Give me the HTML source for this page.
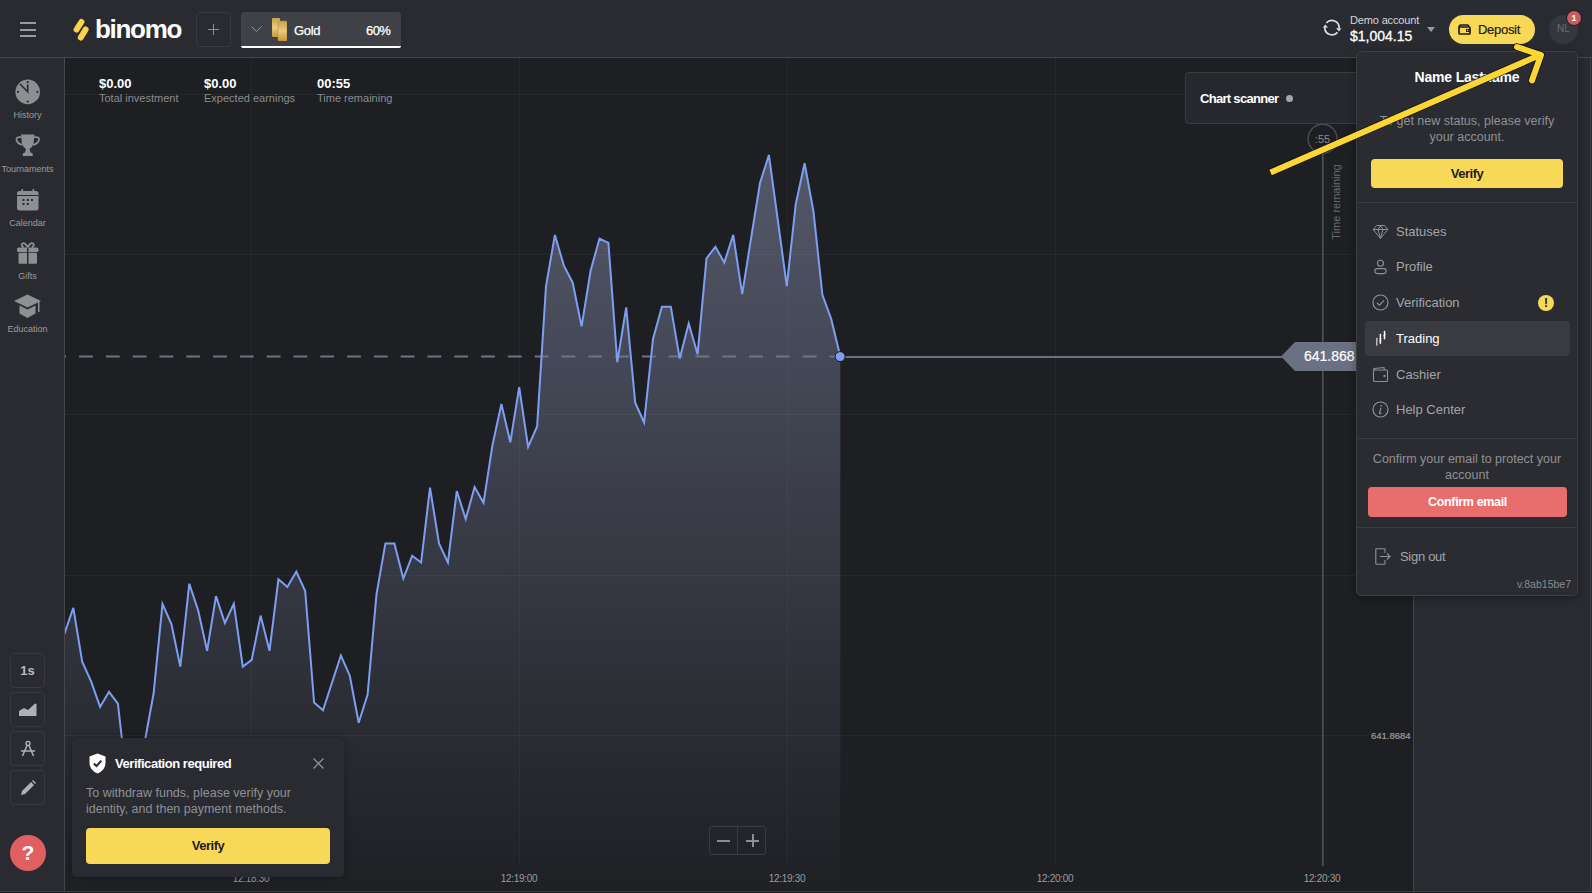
<!DOCTYPE html>
<html><head><meta charset="utf-8">
<style>
*{margin:0;padding:0;box-sizing:border-box}
html,body{width:1592px;height:893px;overflow:hidden;background:#1e1f23;font-family:"Liberation Sans",sans-serif;color:#fff}
.a{position:absolute}
#hdr{left:0;top:0;width:1592px;height:58px;background:#2a2b30;border-bottom:1px solid #47484d}
#side{left:0;top:58px;width:65px;height:835px;background:#2a2b30;border-right:1px solid #45464b}
#rp{left:1413px;top:58px;width:179px;height:835px;background:#2a2b30;border-left:1px solid #45464b}
.gv{position:absolute;top:58px;width:1px;height:807px;background:#2c2d33;z-index:1}
.gh{position:absolute;left:65px;width:1348px;height:1px;background:#2c2d33;z-index:1}
.tl{position:absolute;top:873px;font-size:10px;letter-spacing:-0.3px;color:#9a9b9f;width:60px;text-align:center;margin-left:-30px}
.st1{position:absolute;top:76px;font-size:13px;font-weight:bold;color:#fff}
.st2{position:absolute;top:92px;font-size:11px;color:#8b8c90}
.sbi{position:absolute;left:0;width:55px;text-align:center;font-size:9px;color:#9a9b9f}
.tb{position:absolute;left:10px;width:35px;height:35px;border:1px solid #38393e;border-radius:4px}
.mi{position:absolute;left:1365px;width:205px;height:35px;font-size:13px;color:#a3a4a8;line-height:35px;padding-left:31px}
.mi svg{position:absolute;left:7px;top:9px}
</style></head><body>
<div id="hdr" class="a"></div>
<div id="side" class="a"></div>
<div id="rp" class="a"></div>
<div class="a" style="left:0;top:891px;width:1592px;height:1px;background:#3b3c41;z-index:5"></div>
<div class="a" style="left:0;top:892px;width:1592px;height:1px;background:#1e1f23;z-index:5"></div>
<div class="a" style="left:1590px;top:58px;width:1px;height:833px;background:#3b3c41"></div>

<!-- grid -->


<!-- chart -->
<svg class="a" style="left:0;top:0;z-index:0" width="1592" height="893">
<defs>
<linearGradient id="ag" x1="0" y1="150" x2="0" y2="893" gradientUnits="userSpaceOnUse">
<stop offset="0" stop-color="#555869"/>
<stop offset="0.4" stop-color="#3e414e"/>
<stop offset="1" stop-color="#1f2024"/>
</linearGradient>
<clipPath id="cc"><rect x="65" y="58" width="1348" height="835"/></clipPath>
</defs>
<g clip-path="url(#cc)">
<path d="M64.4,634 L73.3,607.8 L82.2,661.6 L91.2,681.7 L100.1,706.9 L109.0,691.8 L117.9,703.6 L126.8,782 L135.7,790 L144.7,742 L153.6,693.5 L162.5,603.8 L171.4,624 L180.3,666.6 L189.3,583.7 L198.2,610.5 L207.1,650.8 L216.0,596.1 L224.9,623 L233.8,603.8 L242.8,666.6 L251.7,659.9 L260.6,615.6 L269.5,650.8 L278.4,579.3 L287.4,587 L296.3,571.6 L305.2,591 L314.1,702.6 L323.0,710.3 L331.9,683 L340.9,655.5 L349.8,675.7 L358.7,722.7 L367.6,694.5 L376.5,594.4 L385.4,543.4 L394.4,543.4 L403.3,578.6 L412.2,555.8 L421.1,562.5 L430.0,487.6 L439.0,543.4 L447.9,562.5 L456.8,491 L465.7,519.1 L474.6,487.1 L483.5,502.8 L492.5,445 L501.4,404 L510.3,442.3 L519.2,387.2 L528.1,447 L537.1,426.5 L546.0,286.2 L554.9,235 L563.8,265.4 L572.7,282.7 L581.6,326.4 L590.6,270.8 L599.5,238.6 L608.4,242.9 L617.3,362.2 L626.2,307.4 L635.2,402.7 L644.1,422.4 L653.0,338.9 L661.9,306.7 L670.8,306.7 L679.7,358.6 L688.7,323.5 L697.6,354.3 L706.5,258.3 L715.4,246.8 L724.3,262.6 L733.2,235 L742.2,294.1 L751.1,238 L760.0,183 L768.9,155 L777.8,220 L786.8,286.2 L795.7,204.5 L804.6,163.3 L813.5,211.7 L822.4,294.8 L831.3,319.2 L840.3,356.5 L840.3,893 L64.4,893 Z" fill="url(#ag)"/>
<line x1="251.5" y1="58" x2="251.5" y2="865" stroke="rgba(255,255,255,0.045)" stroke-width="1"/><line x1="519.5" y1="58" x2="519.5" y2="865" stroke="rgba(255,255,255,0.045)" stroke-width="1"/><line x1="787.5" y1="58" x2="787.5" y2="865" stroke="rgba(255,255,255,0.045)" stroke-width="1"/><line x1="1055.5" y1="58" x2="1055.5" y2="865" stroke="rgba(255,255,255,0.045)" stroke-width="1"/><line x1="65" y1="94.5" x2="1413" y2="94.5" stroke="rgba(255,255,255,0.045)" stroke-width="1"/><line x1="65" y1="254.5" x2="1413" y2="254.5" stroke="rgba(255,255,255,0.045)" stroke-width="1"/><line x1="65" y1="414.5" x2="1413" y2="414.5" stroke="rgba(255,255,255,0.045)" stroke-width="1"/><line x1="65" y1="575.5" x2="1413" y2="575.5" stroke="rgba(255,255,255,0.045)" stroke-width="1"/><line x1="65" y1="735.5" x2="1413" y2="735.5" stroke="rgba(255,255,255,0.045)" stroke-width="1"/>
<line x1="52.3" y1="356.6" x2="840" y2="356.6" stroke="#6f7386" stroke-width="2" stroke-dasharray="13.8 13"/>
<line x1="840" y1="357" x2="1290" y2="357" stroke="#6b7083" stroke-width="2"/>
<path d="M64.4,634 L73.3,607.8 L82.2,661.6 L91.2,681.7 L100.1,706.9 L109.0,691.8 L117.9,703.6 L126.8,782 L135.7,790 L144.7,742 L153.6,693.5 L162.5,603.8 L171.4,624 L180.3,666.6 L189.3,583.7 L198.2,610.5 L207.1,650.8 L216.0,596.1 L224.9,623 L233.8,603.8 L242.8,666.6 L251.7,659.9 L260.6,615.6 L269.5,650.8 L278.4,579.3 L287.4,587 L296.3,571.6 L305.2,591 L314.1,702.6 L323.0,710.3 L331.9,683 L340.9,655.5 L349.8,675.7 L358.7,722.7 L367.6,694.5 L376.5,594.4 L385.4,543.4 L394.4,543.4 L403.3,578.6 L412.2,555.8 L421.1,562.5 L430.0,487.6 L439.0,543.4 L447.9,562.5 L456.8,491 L465.7,519.1 L474.6,487.1 L483.5,502.8 L492.5,445 L501.4,404 L510.3,442.3 L519.2,387.2 L528.1,447 L537.1,426.5 L546.0,286.2 L554.9,235 L563.8,265.4 L572.7,282.7 L581.6,326.4 L590.6,270.8 L599.5,238.6 L608.4,242.9 L617.3,362.2 L626.2,307.4 L635.2,402.7 L644.1,422.4 L653.0,338.9 L661.9,306.7 L670.8,306.7 L679.7,358.6 L688.7,323.5 L697.6,354.3 L706.5,258.3 L715.4,246.8 L724.3,262.6 L733.2,235 L742.2,294.1 L751.1,238 L760.0,183 L768.9,155 L777.8,220 L786.8,286.2 L795.7,204.5 L804.6,163.3 L813.5,211.7 L822.4,294.8 L831.3,319.2 L840.3,356.5" fill="none" stroke="#7f9ef2" stroke-width="2" stroke-linejoin="miter"/>
<circle cx="840.1" cy="356.6" r="5" fill="#7f9ef2" stroke="#15161a" stroke-width="1"/>
<line x1="1322.8" y1="154" x2="1322.8" y2="866" stroke="#55565b" stroke-width="1.5"/>
<circle cx="1322.6" cy="138.7" r="14.5" fill="none" stroke="#4a4b50" stroke-width="1.5"/>
<path d="M1281,356.5 L1295,342 L1360,342 L1360,371 L1295,371 Z" fill="#6b7083"/>
</g>
</svg>
<div class="tl" style="left:251px">12:18:30</div>
<div class="tl" style="left:519px">12:19:00</div>
<div class="tl" style="left:787px">12:19:30</div>
<div class="tl" style="left:1055px">12:20:00</div>
<div class="tl" style="left:1322px">12:20:30</div>
<div class="a" style="left:1304px;top:348px;font-size:14px;color:#fff;-webkit-text-stroke:0.2px #fff">641.868</div>
<div class="a" style="left:1309px;top:132.5px;font-size:11px;color:#8a8b8f;width:27px;text-align:center">:55</div>
<div class="a" style="left:1290px;top:195.5px;width:92px;font-size:11px;color:#6a6b70;transform:rotate(-90deg);text-align:center">Time remaining</div>
<div class="a" style="left:1369px;top:730px;width:44px;padding-left:2px;font-size:9.5px;color:#9c9da1;background:#1e1f23;-webkit-text-stroke:0.2px #9c9da1;line-height:11px">641.8684</div>

<!-- stats -->
<div class="st1" style="left:99px">$0.00</div>
<div class="st2" style="left:99px">Total investment</div>
<div class="st1" style="left:204px">$0.00</div>
<div class="st2" style="left:204px">Expected earnings</div>
<div class="st1" style="left:317px">00:55</div>
<div class="st2" style="left:317px">Time remaining</div>

<!-- chart scanner -->
<div class="a" style="left:1185px;top:72px;width:200px;height:52px;background:#27282d;border:1px solid #3a3b40;border-radius:4px"></div>
<div class="a" style="left:1200px;top:91px;font-size:13px;font-weight:bold;letter-spacing:-0.7px">Chart scanner</div>
<div class="a" style="left:1286px;top:95px;width:7px;height:7px;border-radius:50%;background:#a5a6aa"></div>

<!-- zoom -->
<div class="a" style="left:709px;top:826px;width:29px;height:29px;border:1px solid #3a3b40;border-radius:3px 0 0 3px"></div>
<div class="a" style="left:737px;top:826px;width:29px;height:29px;border:1px solid #3a3b40;border-radius:0 3px 3px 0"></div>
<div class="a" style="left:717px;top:840px;width:13px;height:1.5px;background:#8d8e92"></div>
<div class="a" style="left:746px;top:840px;width:13px;height:1.5px;background:#8d8e92"></div>
<div class="a" style="left:752px;top:834px;width:1.5px;height:13px;background:#8d8e92"></div>

<!-- header -->
<div class="a" style="left:20px;top:22px;width:16px;height:2px;background:#9a9b9f"></div>
<div class="a" style="left:20px;top:29px;width:16px;height:2px;background:#9a9b9f"></div>
<div class="a" style="left:20px;top:35px;width:16px;height:2px;background:#9a9b9f"></div>
<svg class="a" style="left:72px;top:18px" width="18" height="24" viewBox="0 0 18 24">
<line x1="9.4" y1="4" x2="4.6" y2="11.5" stroke="#f7d44c" stroke-width="6" stroke-linecap="round"/>
<line x1="13.6" y1="11.5" x2="8.8" y2="19.5" stroke="#f7d44c" stroke-width="6" stroke-linecap="round"/>
</svg>
<div class="a" style="left:95px;top:14px;font-size:26px;font-weight:bold;color:#fff;letter-spacing:-1.3px">binomo</div>
<div class="a" style="left:196px;top:12px;width:35px;height:35px;border:1px solid #393a3f;border-radius:4px"></div>
<div class="a" style="left:208px;top:29px;width:11px;height:1px;background:#8d8e92"></div>
<div class="a" style="left:213px;top:24px;width:1px;height:11px;background:#8d8e92"></div>
<div class="a" style="left:241px;top:12px;width:160px;height:36px;background:#404146;border-radius:4px 4px 2px 2px;border-bottom:2px solid #fff"></div>
<svg class="a" style="left:251px;top:26px" width="11" height="7" viewBox="0 0 11 7"><polyline points="0.5,0.5 5.5,5.5 10.5,0.5" fill="none" stroke="#8d8e92" stroke-width="1"/></svg>
<svg class="a" style="left:272px;top:18px" width="15" height="23" viewBox="0 0 15 23">
<defs><linearGradient id="gold" x1="0" y1="0" x2="0" y2="1"><stop offset="0" stop-color="#caa24a"/><stop offset="0.5" stop-color="#e9cc7c"/><stop offset="1" stop-color="#c59a3e"/></linearGradient></defs>
<rect x="0" y="0" width="8" height="19" rx="1" fill="url(#gold)"/>
<rect x="6" y="3" width="9" height="20" rx="1" fill="url(#gold)" stroke="#b38a35" stroke-width="0.5"/>
</svg>
<div class="a" style="left:294px;top:23px;font-size:13px;color:#fff;letter-spacing:-0.3px;-webkit-text-stroke:0.25px #fff">Gold</div>
<div class="a" style="left:366px;top:23px;font-size:13px;color:#fff;letter-spacing:-0.6px;-webkit-text-stroke:0.25px #fff">60%</div>

<svg class="a" style="left:1316px;top:12px" width="34" height="34" viewBox="0 0 34 34">
<path d="M10.33,11 A7.3,7.3 0 0 1 23.1,16.3" fill="none" stroke="#dedfe1" stroke-width="1.7"/>
<polygon points="20,16 25.5,16.4 22.9,19.4" fill="#dedfe1"/>
<path d="M21.5,20.4 A7.3,7.3 0 0 1 8.75,15.2" fill="none" stroke="#dedfe1" stroke-width="1.7"/>
<polygon points="6.7,15.7 12,15.4 9.3,12.6" fill="#dedfe1"/>
</svg>
<div class="a" style="left:1350px;top:14px;font-size:11px;color:#d5d6d8;letter-spacing:-0.15px">Demo account</div>
<div class="a" style="left:1350px;top:28px;font-size:14px;color:#fff;-webkit-text-stroke:0.3px #fff">$1,004.15</div>
<svg class="a" style="left:1427px;top:27px" width="8" height="5" viewBox="0 0 8 5"><polygon points="0,0 8,0 4,5" fill="#9a9b9f"/></svg>
<div class="a" style="left:1449px;top:15px;width:86px;height:29px;background:#f8d957;border-radius:15px"></div>
<svg class="a" style="left:1458px;top:24px" width="13" height="11" viewBox="0 0 13 11">
<path d="M1,3 L1,9.2 Q1,10 1.8,10 L11.2,10 Q12,10 12,9.2 L12,3.8 Q12,3 11.2,3 L1.8,3 Q1,3 1,3.8 M1.2,3 Q1.2,1 3,1 L9.5,1 Q10.5,1 10.5,2 L10.5,3" fill="none" stroke="#1c1d21" stroke-width="1.7"/>
<rect x="8" y="5" width="4" height="3" fill="#1c1d21"/><circle cx="9.6" cy="6.5" r="0.8" fill="#f8d957"/>
</svg>
<div class="a" style="left:1478px;top:22px;font-size:13px;color:#1c1d21;letter-spacing:-0.3px;-webkit-text-stroke:0.2px #1c1d21">Deposit</div>
<div class="a" style="left:1549px;top:15px;width:29px;height:29px;background:#36373c;border-radius:50%"></div>
<div class="a" style="left:1549px;top:23px;width:29px;text-align:center;font-size:10px;color:#6d6e72">NL</div>
<div class="a" style="left:1567px;top:11px;width:14px;height:14px;background:#c95a5e;border-radius:50%;font-size:9px;font-weight:bold;color:#fff;text-align:center;line-height:14px;box-shadow:0 0 0 1px #1e1f23">1</div>

<!-- sidebar -->
<svg class="a" style="left:15px;top:79px" width="26" height="26" viewBox="0 0 26 26">
<circle cx="12.7" cy="12.9" r="12.3" fill="#8e8f93"/>
<g fill="#2a2b30"><circle cx="12.7" cy="3.2" r="1.1"/><circle cx="12.7" cy="22.6" r="1.1"/><circle cx="3" cy="12.9" r="1.1"/><circle cx="22.4" cy="12.9" r="1.1"/></g>
<polyline points="5,5 12.7,12.9 12.7,5.5" fill="none" stroke="#2a2b30" stroke-width="1.6"/>
</svg>
<div class="sbi" style="top:110px">History</div>
<svg class="a" style="left:15px;top:134px" width="26" height="23" viewBox="0 0 26 23">
<path d="M6,0.5 L19.5,0.5 L18.5,10 Q17,14 14.5,15 L15.5,18.5 Q19,19.5 17.5,22 L8,22 Q6.5,19.5 10,18.5 L11,15 Q8.5,14 7,10 Z" fill="#8e8f93"/>
<path d="M6.3,3.2 Q1,2.5 1.5,6 Q2.5,9.5 7.3,11" fill="none" stroke="#8e8f93" stroke-width="1.8"/>
<path d="M19.2,3.2 Q24.5,2.5 24,6 Q23,9.5 18.2,11" fill="none" stroke="#8e8f93" stroke-width="1.8"/>
</svg>
<div class="sbi" style="top:164px">Tournaments</div>
<svg class="a" style="left:17px;top:189px" width="22" height="22" viewBox="0 0 22 22">
<rect x="0" y="2" width="21.5" height="19.5" rx="2.5" fill="#8e8f93"/>
<rect x="0" y="6" width="21.5" height="1" fill="#2a2b30"/>
<rect x="4.5" y="0" width="1.6" height="4" fill="#8e8f93"/><rect x="15.5" y="0" width="1.6" height="4" fill="#8e8f93"/>
<g fill="#2a2b30"><rect x="5.5" y="10" width="2" height="2"/><rect x="9.8" y="10" width="2" height="2"/><rect x="14" y="10" width="2" height="2"/><rect x="5.5" y="14" width="2" height="2"/><rect x="9.8" y="14" width="2" height="2"/></g>
</svg>
<div class="sbi" style="top:218px">Calendar</div>
<svg class="a" style="left:17px;top:242px" width="22" height="22" viewBox="0 0 22 22">
<path d="M10.7,5.5 Q8,0 5.5,1.5 Q3.5,3 6.5,5.5" fill="none" stroke="#8e8f93" stroke-width="1.8"/>
<path d="M10.7,5.5 Q13.5,0 16,1.5 Q18,3 15,5.5" fill="none" stroke="#8e8f93" stroke-width="1.8"/>
<rect x="0" y="5.5" width="21.5" height="4.5" rx="1.5" fill="#8e8f93"/>
<rect x="1.5" y="10.8" width="18.5" height="11" rx="1" fill="#8e8f93"/>
<rect x="10" y="5.5" width="1.5" height="16.5" fill="#2a2b30"/>
</svg>
<div class="sbi" style="top:271px">Gifts</div>
<svg class="a" style="left:14px;top:294px" width="28" height="25" viewBox="0 0 28 25">
<polygon points="13.5,0.5 27,7 13.5,13.5 0,7" fill="#8e8f93"/>
<path d="M5.5,11.5 L5.5,19.5 L13.5,24 L21.5,19.5 L21.5,11.5 L13.5,15.5 Z" fill="#8e8f93"/>
<rect x="24" y="8" width="1.5" height="10" fill="#8e8f93"/>
</svg>
<div class="sbi" style="top:324px">Education</div>

<div class="tb" style="top:653px"></div>
<div class="a" style="left:10px;top:663px;width:35px;text-align:center;font-size:13px;font-weight:bold;color:#b9babd">1s</div>
<div class="tb" style="top:692px"></div>
<svg class="a" style="left:19px;top:703px" width="18" height="13" viewBox="0 0 18 13"><path d="M0,13 L0,8 L5,5 L9,7 L16,0.5 L17.5,1 L17.5,13 Z" fill="#b0b1b5"/></svg>
<div class="tb" style="top:731px"></div>
<svg class="a" style="left:19px;top:740px" width="18" height="18" viewBox="0 0 18 18">
<circle cx="9" cy="3.5" r="2" fill="none" stroke="#b0b1b5" stroke-width="1.4"/>
<line x1="8" y1="5.5" x2="3.5" y2="16" stroke="#b0b1b5" stroke-width="1.5"/><line x1="10" y1="5.5" x2="14.5" y2="16" stroke="#b0b1b5" stroke-width="1.5"/>
<line x1="2" y1="11" x2="16" y2="11" stroke="#b0b1b5" stroke-width="1.5"/>
</svg>
<div class="tb" style="top:770px"></div>
<svg class="a" style="left:20px;top:780px" width="16" height="16" viewBox="0 0 16 16"><path d="M1,15 L2,11 L11,2 L14,5 L5,14 Z M12,1 L13,0 L16,3 L15,4 Z" fill="#b0b1b5"/></svg>
<div class="a" style="left:10px;top:835px;width:36px;height:36px;border-radius:50%;background:#e05f60"></div>
<div class="a" style="left:10px;top:841px;width:36px;text-align:center;font-size:21px;font-weight:bold;color:#fff">?</div>

<!-- menu -->
<div class="a" style="left:1356px;top:51px;width:222px;height:545px;background:#2b2c31;border:1px solid #3d3e43;border-radius:5px;box-shadow:0 2px 8px rgba(0,0,0,0.35)"></div>
<div class="a" style="left:1357px;top:68.5px;width:220px;text-align:center;font-size:14px;font-weight:bold;color:#fff;letter-spacing:-0.2px">Name Lastname</div>
<div class="a" style="left:1357px;top:113px;width:220px;text-align:center;font-size:12.5px;line-height:16px;color:#8f9094">To get new status, please verify<br>your account.</div>
<div class="a" style="left:1371px;top:159px;width:192px;height:29px;background:#f8d957;border-radius:4px"></div>
<div class="a" style="left:1371px;top:166px;width:192px;text-align:center;font-size:13px;font-weight:bold;color:#1c1d21;letter-spacing:-0.5px">Verify</div>
<div class="a" style="left:1357px;top:202px;width:220px;height:1px;background:#3a3b40"></div>

<div class="mi" style="top:214px"><svg width="17" height="17" viewBox="0 0 17 17" style="top:10px"><path d="M4.5,1.5 L12.5,1.5 L15.8,5.5 L8.5,14.5 L1.2,5.5 Z M1.2,5.5 L15.8,5.5 M6,5.5 L8.5,1.8 L11,5.5 L8.5,14.2 Z" fill="none" stroke="#8f9094" stroke-width="1" stroke-linejoin="round"/></svg>Statuses</div>
<div class="mi" style="top:249px"><svg width="17" height="17" viewBox="0 0 17 17"><circle cx="8.5" cy="5.2" r="3" fill="none" stroke="#8f9094" stroke-width="1.1"/><rect x="2.8" y="10.6" width="11.4" height="5" rx="2.5" fill="none" stroke="#8f9094" stroke-width="1.1"/></svg>Profile</div>
<div class="mi" style="top:285px"><svg width="17" height="17" viewBox="0 0 17 17"><circle cx="8.5" cy="8.5" r="7.5" fill="none" stroke="#8f9094" stroke-width="1.2"/><polyline points="5,8.8 7.5,11.2 12,6.3" fill="none" stroke="#8f9094" stroke-width="1.2"/></svg>Verification</div>
<div class="a" style="left:1538px;top:295px;width:16px;height:16px;border-radius:50%;background:#f8d957;font-size:12px;font-weight:bold;color:#1c1d21;text-align:center;line-height:16px">!</div>
<div class="mi" style="top:321px;background:#3a3b40;border-radius:4px;color:#fff"><svg width="17" height="17" viewBox="0 0 17 17"><g stroke="#fff" stroke-linecap="round"><line x1="4.8" y1="8.3" x2="4.8" y2="15.2" stroke-width="1.3" opacity="0.75"/><line x1="8.4" y1="4.6" x2="8.4" y2="13.2" stroke-width="1.5"/><line x1="12.5" y1="1.6" x2="12.5" y2="8.8" stroke-width="1.5"/><line x1="7.7" y1="10" x2="9.1" y2="9" stroke-width="1"/><line x1="11.8" y1="5.5" x2="13.2" y2="4.5" stroke-width="1"/></g></svg>Trading</div>
<div class="mi" style="top:357px"><svg width="17" height="17" viewBox="0 0 17 17"><path d="M1.5,5 L1.5,14.5 Q1.5,15.5 2.5,15.5 L14.5,15.5 Q15.5,15.5 15.5,14.5 L15.5,5 Q15.5,4 14.5,4 L2.5,4 Q1.5,4 1.5,5 Z M1.5,4.5 L2,2.5 L12,1.5 L12.5,4" fill="none" stroke="#8f9094" stroke-width="1.1"/><rect x="11.5" y="9" width="2" height="2" fill="#8f9094"/></svg>Cashier</div>
<div class="mi" style="top:392px"><svg width="17" height="17" viewBox="0 0 17 17"><circle cx="8.5" cy="8.5" r="7.5" fill="none" stroke="#8f9094" stroke-width="1.2"/><circle cx="9.2" cy="4.8" r="0.9" fill="#8f9094"/><path d="M8.8,7 L7.5,12.5 Q8,13 9.5,12" fill="none" stroke="#8f9094" stroke-width="1.2"/></svg>Help Center</div>

<div class="a" style="left:1357px;top:438px;width:220px;height:1px;background:#3a3b40"></div>
<div class="a" style="left:1357px;top:451px;width:220px;text-align:center;font-size:12.5px;line-height:16px;color:#8f9094">Confirm your email to protect your<br>account</div>
<div class="a" style="left:1368px;top:487px;width:199px;height:30px;background:#e86e6e;border-radius:4px"></div>
<div class="a" style="left:1368px;top:495px;width:199px;text-align:center;font-size:12.5px;font-weight:bold;color:#fff;letter-spacing:-0.35px">Confirm email</div>
<div class="a" style="left:1357px;top:527px;width:220px;height:1px;background:#3a3b40"></div>
<svg class="a" style="left:1375px;top:548px" width="16" height="17" viewBox="0 0 16 17"><path d="M10,5 L10,1.5 Q10,0.8 9.3,0.8 L1.5,0.8 Q0.8,0.8 0.8,1.5 L0.8,15.5 Q0.8,16.2 1.5,16.2 L9.3,16.2 Q10,16.2 10,15.5 L10,12 M5,8.5 L15,8.5 M12,5.5 L15,8.5 L12,11.5" fill="none" stroke="#8f9094" stroke-width="1.1"/></svg>
<div class="a" style="left:1400px;top:549px;font-size:13px;color:#a3a4a8;letter-spacing:-0.3px">Sign out</div>
<div class="a" style="left:1500px;top:578px;width:71px;text-align:right;font-size:10.5px;color:#8a8b8f">v.8ab15be7</div>

<!-- toast -->
<div class="a" style="left:72px;top:738px;width:272px;height:139px;background:#2a2b30;border-radius:5px;box-shadow:0 0 10px rgba(0,0,0,0.3)"></div>
<svg class="a" style="left:89px;top:753px" width="17" height="21" viewBox="0 0 17 21"><path d="M8.5,0.5 L16.5,3.5 L16.5,10 Q16.5,17 8.5,20.5 Q0.5,17 0.5,10 L0.5,3.5 Z" fill="#fff"/><polyline points="4.8,10.5 7.5,13 12.3,7.8" fill="none" stroke="#2a2b30" stroke-width="2"/></svg>
<div class="a" style="left:115px;top:756px;font-size:13px;font-weight:bold;color:#fff;letter-spacing:-0.45px">Verification required</div>
<svg class="a" style="left:313px;top:758px" width="11" height="11" viewBox="0 0 11 11"><path d="M0.5,0.5 L10.5,10.5 M10.5,0.5 L0.5,10.5" stroke="#8f9094" stroke-width="1.3"/></svg>
<div class="a" style="left:86px;top:785px;font-size:12.5px;line-height:16px;color:#8f9094">To withdraw funds, please verify your<br>identity, and then payment methods.</div>
<div class="a" style="left:86px;top:828px;width:244px;height:36px;background:#f8d957;border-radius:4px"></div>
<div class="a" style="left:86px;top:838px;width:244px;text-align:center;font-size:13px;font-weight:bold;color:#1c1d21;letter-spacing:-0.5px">Verify</div>

<!-- arrow -->
<svg class="a" style="left:0;top:0" width="1592" height="893">
<g stroke="#11121f" stroke-width="7.6" stroke-linejoin="round" fill="none" opacity="0.85">
<line x1="1270.2" y1="172.6" x2="1541" y2="54.6"/>
<polyline points="1517,47 1541,55 1532,80.5" stroke-linecap="round"/>
</g>
<g stroke="#fcd633" stroke-width="6" stroke-linejoin="round" fill="none">
<line x1="1270.6" y1="172.4" x2="1541" y2="54.6"/>
<polyline points="1517,47 1541,55 1532,80.5" stroke-linecap="round"/>
</g>
</svg>

</body></html>
